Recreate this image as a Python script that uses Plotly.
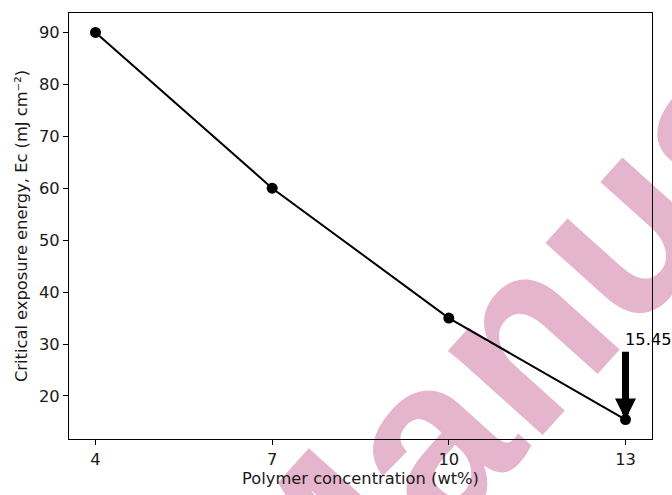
import plotly.graph_objects as go

conc = [4, 7, 10, 13]
ec = [90, 60, 35, 15.45]
x_ticks = [4, 7, 10, 13]
y_ticks = [20, 30, 40, 50, 60, 70, 80, 90]
note_text = "15.45"
watermark = "Manuscript"

FONT = "DejaVu Sans"
FS = 16.3
L, R, T, B = 69, 20, 12, 50
W, H = 672, 495
pw, ph = W - L - R, H - T - B

def px(xp, yp):
    return (xp - L) / pw, (T + ph - yp) / ph

fig = go.Figure()
fig.add_trace(go.Scatter(
    x=conc, y=ec, mode="lines+markers",
    line=dict(color="black", width=2),
    marker=dict(color="black", size=11),
    showlegend=False, cliponaxis=False,
))

# watermark (behind everything)
cx, cy = 658, 150
x0, y0 = px(cx - 66, cy + 75)
x1, y1 = px(cx + 66, cy - 75)
fig.add_shape(type="line", xref="paper", yref="paper", x0=x0, y0=y0, x1=x1, y1=y1,
              layer="below", line=dict(color="rgba(0,0,0,0)", width=1),
              label=dict(text="<b>" + watermark + "</b>", textposition="middle", textangle=-48,
                         xanchor="center", yanchor="middle",
                         font=dict(family="Liberation Sans", size=240, color="#e5b4cd", weight="bold")))

# arrow annotation
fig.add_annotation(x=conc[-1], y=ec[-1], ax=conc[-1], ay=28.8, xref="x", yref="y",
                   axref="x", ayref="y", showarrow=True, arrowhead=2, arrowsize=0.6,
                   arrowwidth=7, arrowcolor="black", text="")
fig.add_annotation(x=conc[-1], y=30, xref="x", yref="y", text=note_text, showarrow=False,
                   xanchor="left", yanchor="bottom", xshift=-3, yshift=-7,
                   font=dict(family=FONT, size=FS, color="black"))

axis_common = dict(showline=True, linecolor="black", linewidth=1.2, mirror=True,
                   ticks="outside", ticklen=5, tickwidth=1.2, tickcolor="black",
                   showgrid=False, zeroline=False,
                   tickfont=dict(family=FONT, size=FS, color="#1a1a1a"))
fig.update_xaxes(range=[3.55, 13.45], tickvals=x_ticks, ticktext=[str(v) for v in x_ticks],
                 title=dict(text="Polymer concentration (wt%)", standoff=3,
                            font=dict(family=FONT, size=FS, color="#1a1a1a")),
                 **axis_common)
fig.update_yaxes(range=[11.72, 93.73], tickvals=y_ticks, ticktext=[str(v) for v in y_ticks],
                 title=dict(text="Critical exposure energy, Ec (mJ cm⁻²)", standoff=7,
                            font=dict(family=FONT, size=FS, color="#1a1a1a")),
                 **axis_common)
fig.update_layout(width=W, height=H, margin=dict(l=L, r=R, t=T, b=B),
                  paper_bgcolor="white", plot_bgcolor="rgba(0,0,0,0)")
fig.write_html("out.html")
